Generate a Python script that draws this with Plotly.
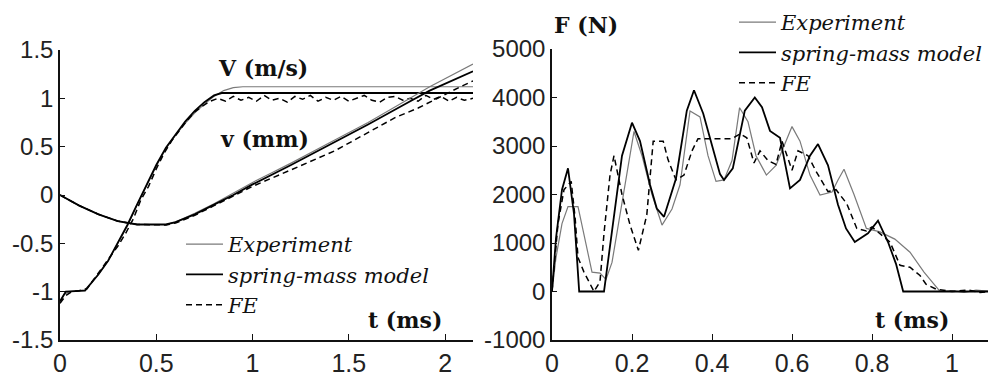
import plotly.graph_objects as go

# The page body adds an 8 px margin, so the figure is drawn 8 px smaller and
# all positions below are given in screen pixels of the 996x376 window.
OFF = 8
W, H = 996 - OFF, 376 - OFF

# ---------------- Left panel: velocity V (m/s) and displacement v (mm) ----------------
t_V_exp = [0, 0.02, 0.05, 0.13, 0.2, 0.25, 0.3, 0.35, 0.4, 0.45, 0.5, 0.55, 0.6, 0.65,
           0.7, 0.75, 0.8, 0.85, 0.9, 0.95, 2.145]
V_exp = [-1.12, -1.03, -1.0, -0.98, -0.82, -0.68, -0.5, -0.32, -0.1, 0.1, 0.3, 0.48,
         0.62, 0.74, 0.85, 0.94, 1.02, 1.08, 1.11, 1.12, 1.12]

t_V_sm = [0, 0.03, 0.13, 0.2, 0.25, 0.3, 0.35, 0.4, 0.45, 0.5, 0.55, 0.6, 0.65, 0.7,
          0.75, 0.8, 0.84, 2.145]
V_sm = [-1.1, -1.0, -0.99, -0.82, -0.68, -0.5, -0.31, -0.1, 0.11, 0.31, 0.49, 0.63,
        0.76, 0.87, 0.96, 1.03, 1.055, 1.055]

t_V_fe = [0, 0.03, 0.06, 0.1, 0.14, 0.18, 0.22, 0.26, 0.3, 0.34, 0.38, 0.42, 0.46, 0.5,
          0.54, 0.58, 0.62, 0.66, 0.7, 0.74, 0.78, 0.82,
          0.86, 0.9, 0.94, 0.98, 1.02, 1.06, 1.1, 1.14, 1.18, 1.22, 1.26, 1.3, 1.34,
          1.38, 1.42, 1.46, 1.5, 1.54, 1.58, 1.62, 1.66, 1.7, 1.74, 1.78, 1.82, 1.86,
          1.9, 1.94, 1.98, 2.02, 2.06, 2.1, 2.145]
V_fe = [-1.12, -1.04, -1.0, -0.99, -0.97, -0.86, -0.76, -0.65, -0.53, -0.4, -0.25,
        -0.05, 0.09, 0.27, 0.43, 0.56, 0.67, 0.77, 0.86, 0.92, 0.97, 1.0,
        0.97, 1.02, 0.98, 1.01, 0.97, 1.03, 0.98, 1.0, 0.96, 1.02, 0.99, 1.03, 0.97,
        1.01, 0.98, 1.02, 0.97, 1.0, 1.03, 0.98, 0.96, 1.01, 1.02, 0.98, 1.0, 0.97,
        1.03, 0.99, 1.02, 0.97, 1.01, 0.98, 1.0]

t_d_exp = [0, 0.1, 0.2, 0.3, 0.4, 0.5, 0.55, 0.6, 0.7, 0.8, 0.9, 1.0, 1.1, 1.2, 1.4,
           1.6, 1.8, 1.92, 2.145]
d_exp = [0, -0.11, -0.2, -0.27, -0.305, -0.31, -0.305, -0.28, -0.19, -0.09, 0.02,
         0.13, 0.23, 0.33, 0.54, 0.75, 0.98, 1.12, 1.355]

t_d_sm = [0, 0.1, 0.2, 0.3, 0.4, 0.5, 0.55, 0.6, 0.7, 0.8, 0.9, 1.0, 1.1, 1.2, 1.4,
          1.6, 1.8, 1.92, 2.145]
d_sm = [0, -0.11, -0.2, -0.27, -0.305, -0.31, -0.305, -0.28, -0.2, -0.1, 0.0, 0.11,
        0.21, 0.31, 0.52, 0.73, 0.95, 1.08, 1.28]

t_d_fe = [0, 0.1, 0.2, 0.3, 0.4, 0.5, 0.55, 0.6, 0.7, 0.8, 0.9, 1.0, 1.2, 1.43, 1.74,
          1.86, 2.08, 2.145]
d_fe = [0, -0.11, -0.2, -0.27, -0.305, -0.31, -0.31, -0.29, -0.21, -0.11, -0.01, 0.09,
        0.26, 0.46, 0.8, 0.9, 1.12, 1.18]

# ---------------- Right panel: force F (N) ----------------
t_F_exp = [0, 0.01, 0.025, 0.04, 0.065, 0.08, 0.1, 0.12, 0.135, 0.15, 0.175, 0.205,
           0.225, 0.25, 0.275, 0.3, 0.32, 0.345, 0.37, 0.39, 0.41, 0.43, 0.45, 0.469,
           0.49, 0.51, 0.536, 0.56, 0.58, 0.6, 0.62, 0.645, 0.67, 0.7, 0.715, 0.73,
           0.755, 0.786, 0.82, 0.857, 0.895, 0.93, 0.97, 1.0, 1.03, 1.06, 1.1025]
F_exp = [0, 700, 1400, 1750, 1750, 1200, 400, 380, 250, 600, 1800, 3300, 2800, 2000,
         1370, 1700, 2200, 3720, 3600, 2800, 2270, 2300, 2700, 3790, 3500, 2800, 2400,
         2600, 3000, 3400, 3100, 2400, 1990, 2050, 2300, 2520, 2000, 1300, 1230, 1080,
         810, 400, 0, 20, -20, 30, 0]

t_F_sm = [0, 0.01, 0.025, 0.04, 0.055, 0.068, 0.13, 0.15, 0.175, 0.2, 0.22, 0.245,
          0.262, 0.28, 0.31, 0.337, 0.355, 0.378, 0.395, 0.42, 0.43, 0.452, 0.482,
          0.507, 0.525, 0.545, 0.57, 0.595, 0.62, 0.645, 0.665, 0.69, 0.715, 0.735,
          0.757, 0.79, 0.815, 0.84, 0.86, 0.878, 1.1025]
F_sm = [0, 1100, 2100, 2540, 1600, 0, 0, 1200, 2800, 3480, 3100, 2200, 1710, 1540,
        2330, 3730, 4150, 3670, 3170, 2420, 2300, 2540, 3730, 4000, 3800, 3312, 3170,
        2125, 2300, 2800, 3040, 2600, 1790, 1300, 1020, 1200, 1460, 1020, 570, 0, 0]

t_F_fe = [0, 0.015, 0.03, 0.048, 0.058, 0.065, 0.08, 0.095, 0.105, 0.12, 0.13, 0.145,
          0.155, 0.175, 0.195, 0.216, 0.237, 0.253, 0.278, 0.29, 0.31, 0.33, 0.35,
          0.365, 0.395, 0.45, 0.47, 0.487, 0.505, 0.52, 0.54, 0.56, 0.575, 0.6, 0.615,
          0.64, 0.66, 0.69, 0.71, 0.737, 0.762, 0.786, 0.8, 0.845, 0.87, 0.895, 0.92,
          0.935, 0.96, 1.0, 1.04, 1.07, 1.1025]
F_fe = [0, 1400, 2100, 2270, 1500, 700, 400, 150, 0, 200, 1200, 2400, 2800, 2000,
        1375, 850, 1580, 3100, 3100, 2720, 2300, 2400, 2900, 3150, 3150, 3150, 3250,
        3170, 2650, 2900, 2700, 2620, 3100, 2500, 2900, 2800, 2480, 2060, 2100, 1810,
        1300, 1250, 1330, 1020, 540, 500, 330, 150, 50, 0, 30, -20, 0]

# ---------------- Ticks and labels ----------------
left_xticks = [0, 0.5, 1, 1.5, 2]
left_xtext = ["0", "0.5", "1", "1.5", "2"]
left_yticks = [-1.5, -1, -0.5, 0, 0.5, 1, 1.5]
left_ytext = ["-1.5", "-1", "-0.5", "0", "0.5", "1", "1.5"]
right_xticks = [0, 0.2, 0.4, 0.6, 0.8, 1]
right_xtext = ["0", "0.2", "0.4", "0.6", "0.8", "1"]
right_yticks = [-1000, 0, 1000, 2000, 3000, 4000, 5000]
right_ytext = ["-1000", "0", "1000", "2000", "3000", "4000", "5000"]
series_names = ["Experiment", "spring-mass model", "FE"]


def px(x):
    return (x - OFF) / W


def py(y):
    return 1 - (y - OFF) / H


EXP = dict(color="#7a7a7a", width=1.2)
SM = dict(color="#000000", width=1.8)
FE = dict(color="#000000", width=1.5, dash="6px,4px")

fig = go.Figure()

# left panel traces
fig.add_trace(go.Scatter(x=t_V_exp, y=V_exp, mode="lines", line=EXP, name=series_names[0],
                         legend="legend", xaxis="x", yaxis="y"))
fig.add_trace(go.Scatter(x=t_V_sm, y=V_sm, mode="lines", line=SM, name=series_names[1],
                         legend="legend", xaxis="x", yaxis="y"))
fig.add_trace(go.Scatter(x=t_V_fe, y=V_fe, mode="lines", line=FE, name=series_names[2],
                         legend="legend", xaxis="x", yaxis="y"))
fig.add_trace(go.Scatter(x=t_d_exp, y=d_exp, mode="lines", line=EXP, showlegend=False,
                         xaxis="x", yaxis="y"))
fig.add_trace(go.Scatter(x=t_d_sm, y=d_sm, mode="lines", line=SM, showlegend=False,
                         xaxis="x", yaxis="y"))
fig.add_trace(go.Scatter(x=t_d_fe, y=d_fe, mode="lines", line=FE, showlegend=False,
                         xaxis="x", yaxis="y"))

# right panel traces
fig.add_trace(go.Scatter(x=t_F_exp, y=F_exp, mode="lines", line=EXP, name=series_names[0],
                         legend="legend2", xaxis="x2", yaxis="y2"))
fig.add_trace(go.Scatter(x=t_F_sm, y=F_sm, mode="lines", line=SM, name=series_names[1],
                         legend="legend2", xaxis="x2", yaxis="y2"))
fig.add_trace(go.Scatter(x=t_F_fe, y=F_fe, mode="lines", line=FE, name=series_names[2],
                         legend="legend2", xaxis="x2", yaxis="y2"))

axis_common = dict(showgrid=False, zeroline=False, showline=True, linecolor="#111",
                   linewidth=1.5, ticks="inside", tickcolor="#111", tickwidth=1.2,
                   fixedrange=True, automargin=False)
tickfont_x = dict(family="Liberation Sans, Arial", size=25, color="#222")
tickfont_y = dict(family="Liberation Sans, Arial", size=24, color="#222")

legend_font = dict(family="DejaVu Serif", size=21, color="#111", style="italic")
title_font = dict(family="DejaVu Serif", size=22, color="#111")

fig.update_layout(
    template="none",
    width=W, height=H,
    margin=dict(l=0, r=0, t=0, b=0, pad=0, autoexpand=False),
    paper_bgcolor="white", plot_bgcolor="white",
    xaxis=dict(domain=[px(60), px(473)], range=[0, 2.145], tickvals=left_xticks,
               ticktext=left_xtext, ticklen=6, tickfont=tickfont_x, anchor="y",
               **axis_common),
    yaxis=dict(domain=[py(340), py(50)], range=[-1.5, 1.5], tickvals=left_yticks,
               ticktext=left_ytext, ticklen=5, tickfont=tickfont_y, anchor="x",
               **axis_common),
    xaxis2=dict(domain=[px(552), px(993)], range=[0, 1.1025], tickvals=right_xticks,
                ticktext=right_xtext, ticklen=6, tickfont=tickfont_x, anchor="y2",
                **axis_common),
    yaxis2=dict(domain=[py(340), py(49)], range=[-1000, 5000], tickvals=right_yticks,
                ticktext=right_ytext, ticklen=5, tickfont=tickfont_y, anchor="x2",
                **axis_common),
    legend=dict(x=px(181), y=py(224), xanchor="left", yanchor="top",
                bgcolor="rgba(0,0,0,0)", font=legend_font, itemwidth=37,
                tracegroupgap=0, borderwidth=0),
    legend2=dict(x=px(734), y=py(2), xanchor="left", yanchor="top",
                 bgcolor="rgba(0,0,0,0)", font=legend_font, itemwidth=37,
                 tracegroupgap=0, borderwidth=0),
    showlegend=True,
)

annots = [
    ("<b>V (m/s)</b>", 263, 68),
    ("<b>v (mm)</b>", 264, 139),
    ("<b>t (ms)</b>", 405, 320),
    ("<b>F (N)</b>", 586, 25),
    ("<b>t (ms)</b>", 912, 320),
]
for txt, ax_, ay_ in annots:
    fig.add_annotation(text=txt, x=px(ax_), y=py(ay_), xref="paper", yref="paper",
                       showarrow=False, xanchor="center", yanchor="middle",
                       font=title_font)

fig.write_html("out.html")
